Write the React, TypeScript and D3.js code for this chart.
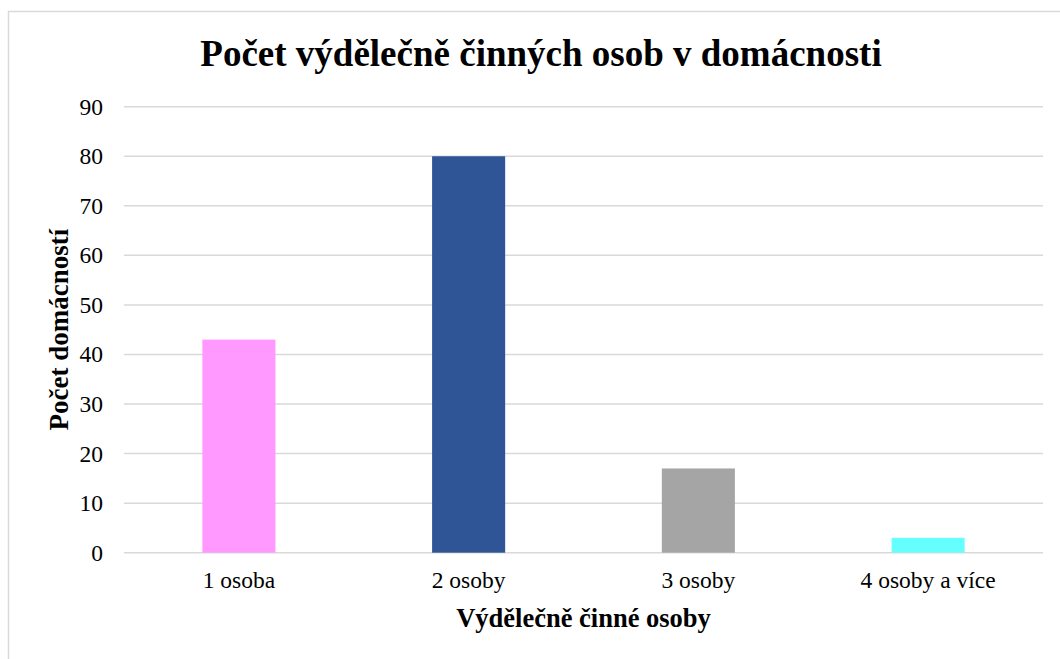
import React from "react";
import * as d3 from "d3";

const categories = ["1 osoba", "2 osoby", "3 osoby", "4 osoby a více"];
const values = [43, 80, 17, 3];
const barColors = ["#FF99FF", "#2F5597", "#A5A5A5", "#66FFFF"];
const yTicks = [0, 10, 20, 30, 40, 50, 60, 70, 80, 90];
const title = "Počet výdělečně činných osob v domácnosti";
const xTitle = "Výdělečně činné osoby";
const yTitle = "Počet domácností";

const W = 1060;
const H = 659;
const plotLeft = 124;
const plotRight = 1043;
const plotTop = 106.7;
const plotBottom = 552.7;
const font = "'Liberation Serif', 'Times New Roman', serif";

export default function App() {
  const x = d3
    .scaleBand<string>()
    .domain(categories)
    .range([plotLeft, plotRight])
    .paddingInner(0.682)
    .paddingOuter(0.341);
  const y = d3.scaleLinear().domain([0, 90]).range([plotBottom, plotTop]);

  return (
    <svg
      width={W}
      height={H}
      style={{ position: "fixed", left: 0, top: 0, background: "#fff" }}
    >
      <rect x={0} y={0} width={W} height={H} fill="#fff" />
      <rect
        x={8.5}
        y={11.5}
        width={W + 20}
        height={H + 20}
        fill="#fff"
        stroke="#D9D9D9"
        strokeWidth={1.5}
      />
      <text
        x={541}
        y={66}
        textAnchor="middle"
        fontFamily={font}
        fontWeight="bold"
        fontSize={37}
        fill="#000"
      >
        {title}
      </text>
      {yTicks.map((t) => (
        <g key={t}>
          <line
            x1={plotLeft}
            x2={plotRight}
            y1={y(t)}
            y2={y(t)}
            stroke="#D9D9D9"
            strokeWidth={1.5}
          />
          <text
            x={103}
            y={y(t)}
            dy="0.34em"
            textAnchor="end"
            fontFamily={font}
            fontSize={23.5}
            fill="#000"
          >
            {t}
          </text>
        </g>
      ))}
      {categories.map((c, i) => (
        <rect
          key={c}
          x={x(c)}
          y={y(values[i])}
          width={x.bandwidth()}
          height={y(0) - y(values[i])}
          fill={barColors[i]}
        />
      ))}
      {categories.map((c) => (
        <text
          key={c}
          x={(x(c) as number) + x.bandwidth() / 2}
          y={588}
          textAnchor="middle"
          fontFamily={font}
          fontSize={23.5}
          fill="#000"
        >
          {c}
        </text>
      ))}
      <text
        x={(plotLeft + plotRight) / 2}
        y={627}
        textAnchor="middle"
        fontFamily={font}
        fontWeight="bold"
        fontSize={26.5}
        fill="#000"
      >
        {xTitle}
      </text>
      <text
        transform={`translate(68, ${(plotTop + plotBottom) / 2}) rotate(-90)`}
        textAnchor="middle"
        fontFamily={font}
        fontWeight="bold"
        fontSize={27}
        fill="#000"
      >
        {yTitle}
      </text>
    </svg>
  );
}
